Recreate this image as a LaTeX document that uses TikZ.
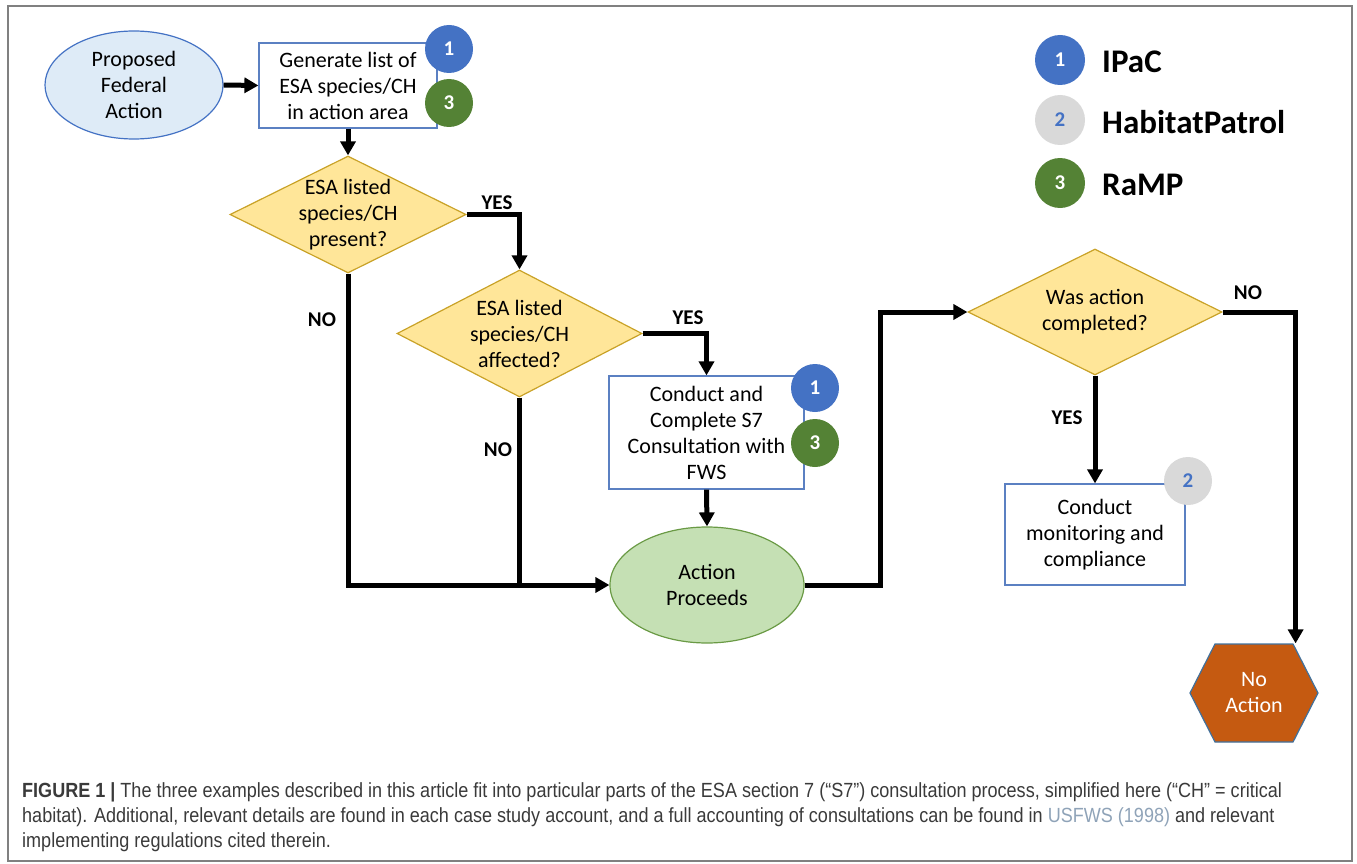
\documentclass[tikz,border=0pt]{standalone}
\usepackage{fontspec}
\setmainfont{Carlito}
\newfontfamily\capfont[FakeStretch=0.88]{Liberation Sans}
\usetikzlibrary{shapes.geometric,shapes.symbols,arrows.meta}
\definecolor{bblue}{HTML}{4472C4}
\definecolor{gbadge}{HTML}{548235}
\definecolor{graybadge}{HTML}{D9D9D9}
\definecolor{boxline}{HTML}{5B80C2}
\definecolor{propfill}{HTML}{DEEBF7}
\definecolor{actfill}{HTML}{C5E0B4}
\definecolor{actline}{HTML}{6A9A45}
\definecolor{diafill}{HTML}{FFE699}
\definecolor{dialine}{HTML}{C9A227}
\definecolor{hexfill}{HTML}{C55A11}
\definecolor{hexline}{HTML}{41719C}
\definecolor{frame}{HTML}{808080}
\definecolor{captext}{HTML}{3A3A3A}
\definecolor{linkc}{HTML}{8FA3B8}
\begin{document}
\begin{tikzpicture}[x=1pt,y=-1pt,
  txt/.style={align=center,font=\fontsize{22}{26}\selectfont},
  box/.style={txt,draw=boxline,line width=1.2pt,fill=white,inner sep=0pt},
  oval/.style={txt,ellipse,line width=1.2pt,inner sep=0pt},
  dia/.style={diamond,draw=dialine,fill=diafill,line width=1.2pt,inner sep=0pt},
  dlab/.style={txt,inner sep=0pt},
  badge/.style={circle,minimum size=48pt,inner sep=0pt,text=white,font=\fontsize{21}{24}\selectfont\bfseries},
  lbadge/.style={badge,minimum size=50pt},
  legtext/.style={anchor=west,inner sep=0pt,font=\fontsize{33}{38}\selectfont\bfseries},
  yn/.style={inner sep=0pt,font=\fontsize{21}{24}\selectfont\bfseries},
  ln/.style={line width=5pt,black},
  arr/.style={ln,-{Triangle[length=14pt,width=15pt]}},
  capline/.style={anchor=base west,inner sep=0pt,text=captext,font=\capfont\fontsize{20.5}{25}\selectfont}
]
\useasboundingbox (0,0) rectangle (1357,864);
\draw[frame,line width=1.5pt] (8,6) rectangle (1352,861);

% nodes
\node[oval,fill=propfill,draw=bblue,minimum width=178pt,minimum height=108pt] (prop) at (134,85) {Proposed\\Federal\\Action};
\node[box,minimum width=178pt,minimum height=85pt] (gen) at (348,85.5) {Generate list of\\ESA species/CH\\in action area};
\node[dia,minimum width=236pt,minimum height=117pt,label={[dlab]center:ESA listed\\species/CH\\present?}] (d1) at (348,214.5) {};
\node[dia,minimum width=245pt,minimum height=127pt,label={[dlab]center:ESA listed\\species/CH\\affected?}] (d2) at (519.5,333.5) {};
\node[box,minimum width=195pt,minimum height=113pt] (cons) at (706.5,432.5) {Conduct and\\Complete S7\\Consultation with\\FWS};
\node[oval,fill=actfill,draw=actline,minimum width=194pt,minimum height=116pt] (act) at (707,585) {Action\\Proceeds};
\node[dia,minimum width=254pt,minimum height=126pt,label={[dlab]center:Was action\\completed?}] (d3) at (1095,312) {};
\node[box,minimum width=180pt,minimum height=101pt] (mon) at (1095,534.5) {Conduct\\monitoring and\\compliance};
\node[txt,signal,signal to=east and west,signal pointer angle=126,minimum width=128pt,minimum height=98pt,inner sep=0pt,fill=hexfill,draw=hexline,line width=1.2pt,text=white] (hex) at (1254,693) {No\\Action};

% badges
\node[badge,fill=bblue] (g1) at (449,49) {1};
\node[badge,fill=gbadge] (g3) at (449,103) {3};
\node[badge,fill=bblue] (c1) at (815,388) {1};
\node[badge,fill=gbadge] (c3) at (815,443) {3};
\node[badge,fill=graybadge,text=bblue] (m2) at (1188,481) {2};

% legend
\node[lbadge,fill=bblue] (L1) at (1060,60) {1};
\node[lbadge,fill=graybadge,text=bblue] (L2) at (1060,120) {2};
\node[lbadge,fill=gbadge] (L3) at (1060,183) {3};
\node[legtext] (L1t) at (1102,62) {IPaC};
\node[legtext] (L2t) at (1102,122) {HabitatPatrol};
\node[legtext] (L3t) at (1102,185) {RaMP};

% connectors
\draw[arr] (prop.east) -- (gen.west);
\draw[arr] (gen.south) -- (d1.north);
\draw[arr] (d1.east) -| (d2.north);
\draw[arr] (d2.east) -| (cons.north);
\draw[arr] (cons.south) -- (act.north);
\draw[arr] (d1.south) |- (act.west);
\draw[ln] (d2.south) -- (d2.south |- act.west);
\draw[arr] (act.east) -- ++(76,0) coordinate (k1) |- (d3.west);
\draw[arr] (d3.south) -- (mon.north);
\draw[arr] (d3.east) -- ++(73,0) coordinate (k2) -- (k2 |- hex.north);

% yes/no labels
\node[yn] (y1) at (497,203) {YES};
\node[yn] (y2) at (688,318) {YES};
\node[yn] (n1) at (322,320) {NO};
\node[yn] (n2) at (498,450) {NO};
\node[yn] (n3) at (1248,293) {NO};
\node[yn] (y3) at (1067,418) {YES};

% caption
\node[capline] (cap1) at (22,797) {\textbf{FIGURE 1 |} The three examples described in this article fit into particular parts of the ESA section 7 (“S7”) consultation process, simplified here (“CH” = critical};
\node[capline] (cap2) at (22,822) {habitat). Additional, relevant details are found in each case study account, and a full accounting of consultations can be found in {\color{linkc}USFWS (1998)} and relevant};
\node[capline] (cap3) at (22,847) {implementing regulations cited therein.};
\end{tikzpicture}
\end{document}
